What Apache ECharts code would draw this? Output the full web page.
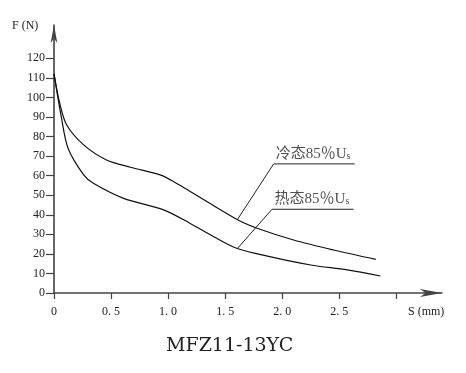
<!DOCTYPE html>
<html>
<head>
<meta charset="utf-8">
<script src="https://cdn.jsdelivr.net/npm/echarts@6/dist/echarts.min.js"></script>
<style>html,body{margin:0;padding:0;background:#fff}#c{width:466px;height:373px}</style>
</head>
<body>
<div id="c"></div>
<script>
// ---- data ----
const coldS = [0, 0.05, 0.11, 0.26, 0.46, 0.67, 0.93, 1.05, 1.22, 1.60, 1.78, 2.10, 2.45, 2.82];
const coldF = [112, 97, 86, 75.7, 68, 64.3, 60.4, 56.9, 51, 37.7, 33.1, 27.1, 22, 17.2];
const hotS = [0, 0.064, 0.123, 0.26, 0.345, 0.61, 0.96, 1.19, 1.40, 1.60, 1.89, 2.25, 2.57, 2.86];
const hotF = [112, 90, 74, 60.4, 56.1, 48.4, 42.5, 35.7, 28.8, 22.9, 18.6, 14.3, 11.8, 8.7];
const coldLeaderS = [1.61, 1.925, 2.635];
const coldLeaderF = [37.8, 66, 66];
const hotLeaderS = [1.61, 1.91, 2.625];
const hotLeaderF = [22.9, 42.8, 42.8];
const labelTexts = ['冷态85％U', '热态85％U'];
const labelS = [2.27, 2.26];
const labelF = [66, 42.8];
const yTicks = [0, 10, 20, 30, 40, 50, 60, 70, 80, 90, 100, 110, 120];
const xTicks = [0, 0.5, 1.0, 1.5, 2.0, 2.5, 3.0];
const xLabels = [0, 0.5, 1.0, 1.5, 2.0, 2.5];
const yName = 'F (N)';
const xName = 'S (mm)';
const title = 'MFZ11-13YC';

const zip = (a, b) => a.map((v, i) => [v, b[i]]);
const serif = '"Liberation Serif", "Noto Sans CJK SC", serif';
const axisColor = '#444';

function leader(s, f) {
  return {
    type: 'line', data: zip(s, f), symbol: 'none',
    lineStyle: { color: '#222', width: 1 }, silent: true, z: 3
  };
}

const chart = echarts.init(document.getElementById('c'), null, { renderer: 'canvas' });
chart.setOption({
  animation: false,
  backgroundColor: '#fff',
  grid: { left: 54, right: 24, top: 25, bottom: 80 },
  xAxis: {
    type: 'value', min: 0, max: 3.4, interval: 0.5,
    axisLine: { lineStyle: { color: axisColor, width: 1.6 }, symbol: ['none', 'arrow'], symbolSize: [6, 22] },
    axisTick: { show: true, length: 6, lineStyle: { color: axisColor, width: 1.2 }, customValues: xTicks },
    axisLabel: {
      customValues: xLabels, margin: 13, fontFamily: serif, fontSize: 12, color: '#222',
      formatter: v => v === 0 ? '0' : v.toFixed(1).replace('.', '. ')
    },
    splitLine: { show: false }
  },
  yAxis: {
    type: 'value', min: 0, max: 137, interval: 10,
    axisLine: { show: true, lineStyle: { color: axisColor, width: 1.6 }, symbol: ['none', 'arrow'], symbolSize: [5, 18] },
    axisTick: { show: true, length: 8, lineStyle: { color: axisColor, width: 1.2 }, customValues: yTicks },
    axisLabel: { customValues: yTicks, margin: 9, fontFamily: serif, fontSize: 12, color: '#222' },
    splitLine: { show: false }
  },
  graphic: [
    { type: 'text', left: 12, top: 20, style: { text: yName, font: '12px ' + serif, fill: '#222' } },
    { type: 'text', left: 408, top: 306, style: { text: xName, font: '12px ' + serif, fill: '#222' } },
    { type: 'text', left: 166, top: 337, style: { text: title, font: '19px "DejaVu Serif", serif', fill: '#222' } }
  ],
  series: [
    { type: 'line', data: zip(coldS, coldF), smooth: 0.3, symbol: 'none', lineStyle: { color: '#111', width: 1.2 }, z: 4 },
    { type: 'line', data: zip(hotS, hotF), smooth: 0.3, symbol: 'none', lineStyle: { color: '#111', width: 1.2 }, z: 4 },
    leader(coldLeaderS, coldLeaderF),
    leader(hotLeaderS, hotLeaderF),
    {
      type: 'scatter', silent: true, z: 5,
      symbolSize: 1, itemStyle: { color: 'rgba(0,0,0,0)' },
      data: zip(labelS, labelF).map((p, i) => ({ value: p, name: labelTexts[i] })),
      label: {
        show: true, position: 'top', distance: 2,
        formatter: p => '{a|' + p.name + '}{b|s}',
        rich: {
          a: { fontFamily: serif, fontSize: 15, color: '#222' },
          b: { fontFamily: serif, fontSize: 10, color: '#222', verticalAlign: 'bottom', padding: [4, 0, 0, 0] }
        }
      }
    }
  ]
});
</script>
</body>
</html>
